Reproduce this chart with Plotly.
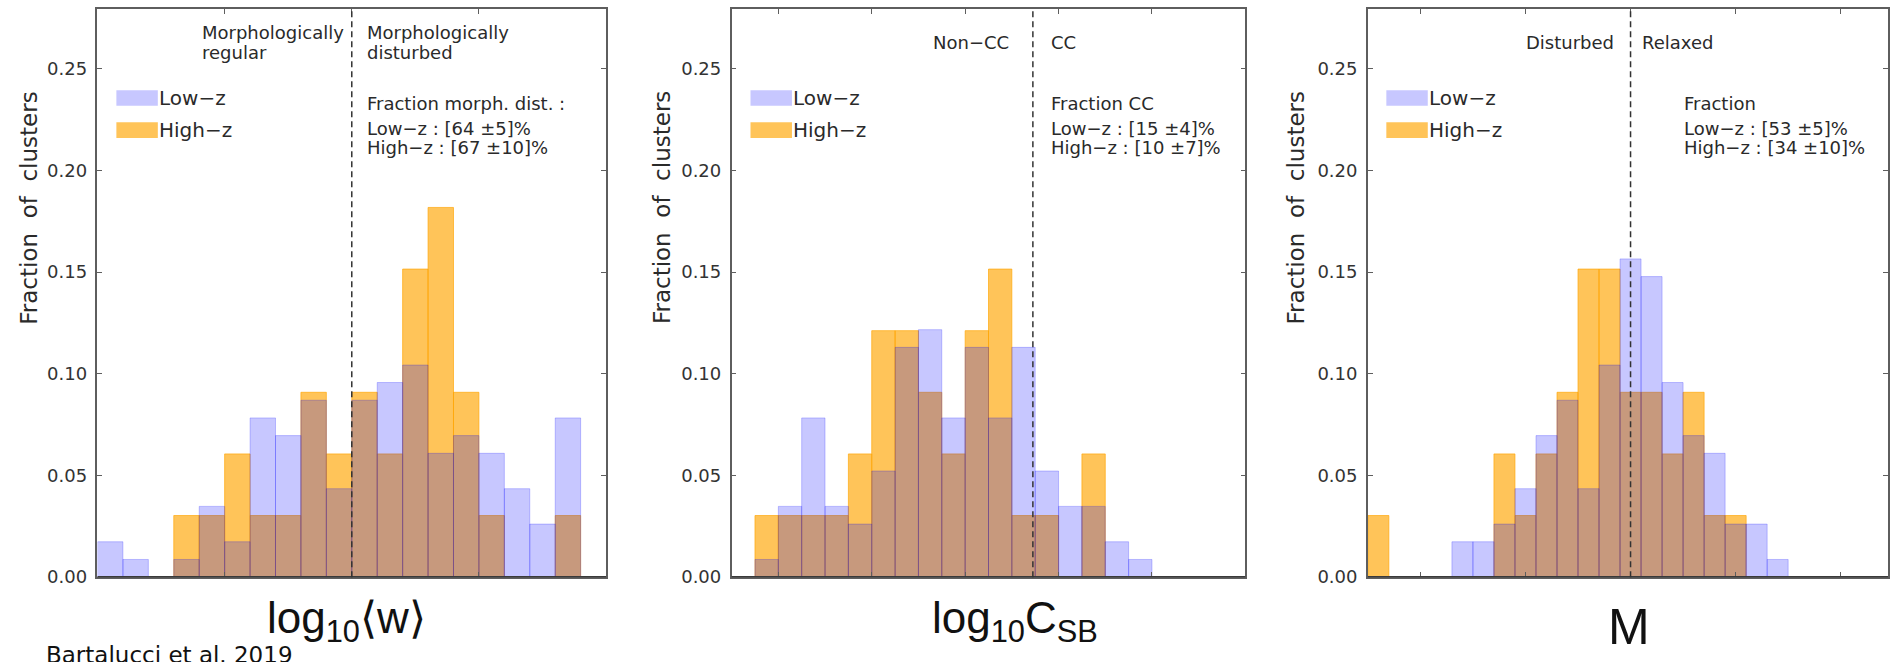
import numpy as np
import plotly.graph_objects as go

W, H = 1890, 662

# ---------------- data (fraction of clusters per bin) ----------------
# Panel 1 : log10<w>, 20 bins
w_low = [0.0174, 0.0087, 0, 0.0087, 0.0348, 0.0174, 0.0783, 0.0696, 0.0870, 0.0435,
         0.0870, 0.0957, 0.1043, 0.0609, 0.0696, 0.0609, 0.0435, 0.0261, 0.0783, 0]
w_high = [0, 0, 0, 0.0303, 0.0303, 0.0606, 0.0303, 0.0303, 0.0909, 0.0606,
          0.0909, 0.0606, 0.1515, 0.1818, 0.0909, 0.0303, 0, 0, 0.0303, 0]
# Panel 2 : log10 C_SB, 22 bins
csb_low = [0, 0.0087, 0.0348, 0.0783, 0.0348, 0.0261, 0.0522, 0.1130, 0.1217, 0.0783, 0.1130,
           0.0783, 0.1130, 0.0522, 0.0348, 0.0348, 0.0174, 0.0087, 0, 0, 0, 0]
csb_high = [0, 0.0303, 0.0303, 0.0303, 0.0303, 0.0606, 0.1212, 0.1212, 0.0909, 0.0606, 0.1212,
            0.1515, 0.0303, 0.0303, 0, 0.0606, 0, 0, 0, 0, 0, 0]
# Panel 3 : M, 25 bins
m_low = [0, 0, 0, 0, 0.0174, 0.0174, 0.0261, 0.0435, 0.0696, 0.0870, 0.0435, 0.1043, 0.1565,
         0.1478, 0.0957, 0.0696, 0.0609, 0.0261, 0.0261, 0.0087, 0, 0, 0, 0, 0]
m_high = [0.0303, 0, 0, 0, 0, 0, 0.0606, 0.0303, 0.0606, 0.0909, 0.1515, 0.1515, 0.0909,
          0.0909, 0.0606, 0.0909, 0.0303, 0.0303, 0, 0, 0, 0, 0, 0, 0]

x_titles = ["log<sub>10</sub>\u27e8w\u27e9", "log<sub>10</sub>C<sub>SB</sub>", "M"]
y_title = "Fraction\u00a0\u00a0of\u00a0\u00a0clusters"
y_ticks = [0.0, 0.05, 0.10, 0.15, 0.20, 0.25]
series_names = ["Low\u2212z", "High\u2212z"]

split_lines = [10.0, 12.9, 12.5]
x_tickvals = [[0, 5, 10, 15, 20], [2, 6, 10, 14, 18, 22], [2.5, 7.5, 12.5, 17.5, 22.5]]
x_ranges = [[0, 20], [0, 22], [0, 24.75]]

header_texts = [
    [("Morphologically", 201, 33.5, "left"), ("regular", 201, 53.5, "left"),
     ("Morphologically", 366, 33.5, "left"), ("disturbed", 366, 53.5, "left")],
    [("Non\u2212CC", 1011, 43.5, "right"), ("CC", 1051, 43.5, "left")],
    [("Disturbed", 1617, 43.5, "right"), ("Relaxed", 1643, 43.5, "left")],
]
fraction_texts = [
    (366, ["Fraction morph. dist. :", "Low\u2212z : [64 \u00b15]%", "High\u2212z : [67 \u00b110]%"]),
    (1051, ["Fraction CC", "Low\u2212z : [15 \u00b14]%", "High\u2212z : [10 \u00b17]%"]),
    (1685, ["Fraction", "Low\u2212z : [53 \u00b15]%", "High\u2212z : [34 \u00b110]%"]),
]

# ---------------- style ----------------
LOW_FILL = "rgba(0,0,255,0.22)"
HIGH_FILL = "rgba(255,165,0,0.65)"
AX_COL = "#5e5e5e"
TXT_COL = "#2a2a2a"
FONT = "DejaVu Sans"

x_dom_px = [(97.6, 606.7), (732.4, 1246.7), (1369.3, 1890.0)]
y_dom_px = (586.0, 9.3)
y_range = [0, 0.2793]
legend_x_px = [116.5, 751.3, 1387.8]
ytitle_x_px = [29, 663, 1297]
xtitle_pos = [(347, 601, 44), (1016, 601, 44), (1631, 637, 50)]


def px(x):
    return x / W


def py(y):
    return 1 - y / H


panels = [(w_low, w_high), (csb_low, csb_high), (m_low, m_high)]

fig = go.Figure()
shapes = []
annotations = []

for i, (low, high) in enumerate(panels):
    sfx = "" if i == 0 else str(i + 1)
    xa, ya = "x" + sfx, "y" + sfx
    centers = np.arange(len(low)) + 0.5
    for vals, fill in ((high, HIGH_FILL), (low, LOW_FILL)):
        fig.add_trace(go.Bar(
            x=centers, y=[v if v > 0 else None for v in vals], width=1.0,
            marker=dict(color=fill, line=dict(color=fill, width=1)),
            xaxis=xa, yaxis=ya, showlegend=False, hoverinfo="skip"))

    common = dict(showgrid=False, zeroline=False, showline=True, linecolor=AX_COL,
                  linewidth=1.5, mirror="allticks", ticks="inside", ticklen=5,
                  tickcolor=AX_COL, tickwidth=1)
    fig.layout["xaxis" + sfx] = dict(
        domain=[px(x_dom_px[i][0]), px(x_dom_px[i][1])], range=x_ranges[i],
        tickvals=x_tickvals[i], showticklabels=False, anchor=ya, **common)
    fig.layout["yaxis" + sfx] = dict(
        domain=[py(y_dom_px[0]), py(y_dom_px[1])], range=y_range, tickvals=y_ticks,
        tickformat=".2f", anchor=xa, ticklabelstandoff=5,
        tickfont=dict(family=FONT, size=18, color="#333"), **common)

    # thick zero line (bottom axis)
    shapes.append(dict(type="line", xref=xa + " domain", yref=ya, x0=0, x1=1, y0=0, y1=0,
                       line=dict(color="#3a3a3a", width=2.5)))
    # dashed threshold line
    shapes.append(dict(type="line", xref=xa, yref=ya + " domain", x0=split_lines[i],
                       x1=split_lines[i], y0=0, y1=1,
                       line=dict(color="#333", width=1.5, dash="6px,4px")))
    # legend swatches
    lx = legend_x_px[i]
    for (y0, y1), fill in (((91.7, 107.3), LOW_FILL), ((124.0, 140.0), HIGH_FILL)):
        shapes.append(dict(type="rect", xref="paper", yref="paper",
                           x0=px(lx), x1=px(lx + 41.5), y0=py(y1), y1=py(y0),
                           fillcolor=fill, line=dict(width=0)))
    for name, yc in zip(series_names, (100.0, 132.5)):
        annotations.append(dict(text=name, xref="paper", yref="paper", x=px(lx + 41.5),
                                y=py(yc), xanchor="left", yanchor="middle", showarrow=False,
                                borderpad=0, font=dict(family=FONT, size=20, color=TXT_COL)))
    # header texts
    for txt, x, y, anc in header_texts[i]:
        annotations.append(dict(text=txt, xref="paper", yref="paper", x=px(x), y=py(y),
                                xanchor=anc, yanchor="middle", showarrow=False, borderpad=0,
                                font=dict(family=FONT, size=18, color=TXT_COL)))
    # fraction texts
    fx, lines = fraction_texts[i]
    for txt, y in zip(lines, (105.0, 130.0, 150.0)):
        annotations.append(dict(text=txt, xref="paper", yref="paper", x=px(fx), y=py(y),
                                xanchor="left", yanchor="middle", showarrow=False, borderpad=0,
                                font=dict(family=FONT, size=18, color=TXT_COL)))
    # y title
    annotations.append(dict(text=y_title, xref="paper", yref="paper", x=px(ytitle_x_px[i]),
                            y=py(211), xanchor="center", yanchor="middle", textangle=-90,
                            showarrow=False, font=dict(family=FONT, size=23, color=TXT_COL)))
    # x title
    tx, ty, ts = xtitle_pos[i]
    annotations.append(dict(text=x_titles[i], xref="paper", yref="paper", x=px(tx), y=py(ty),
                            xanchor="center", yanchor="top" if i < 2 else "middle",
                            showarrow=False, borderpad=0,
                            font=dict(family="Liberation Sans", size=ts, color="#111")))

annotations.append(dict(text="Bartalucci et al. 2019", xref="paper", yref="paper", x=px(45),
                        y=py(665), xanchor="left", yanchor="middle", showarrow=False,
                        borderpad=0, font=dict(family=FONT, size=23, color="#111")))

fig.update_layout(
    width=W, height=H, margin=dict(l=0, r=0, t=0, b=0),
    paper_bgcolor="white", plot_bgcolor="white", barmode="overlay",
    shapes=shapes, annotations=annotations, showlegend=False,
)

fig.write_html("out.html")
